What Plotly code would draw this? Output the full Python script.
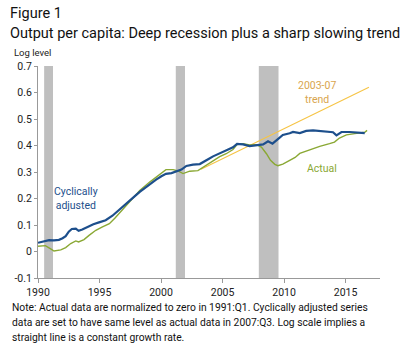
import plotly.graph_objects as go

# ---- data ----
adj_years = [1990.0, 1990.5, 1990.9, 1991.3, 1991.7, 1992.0, 1992.25, 1992.5, 1992.75, 1993.07,
             1993.3, 1993.6, 1993.9, 1994.2, 1994.5, 1994.96, 1995.5, 1996.05, 1996.6, 1997.1,
             1997.45, 1997.85, 1998.27, 1998.7, 1999.08, 1999.6, 2000.03, 2000.4, 2000.85, 2001.25,
             2001.66, 2002.06, 2002.6, 2003.15, 2003.55, 2003.9, 2004.23, 2004.77, 2005.3, 2005.85,
             2006.18, 2006.67, 2007.2, 2007.76, 2008.3, 2008.7, 2009.06, 2009.5, 2009.9, 2010.46,
             2010.73, 2011.28, 2011.8, 2012.36, 2012.9, 2013.45, 2013.98, 2014.26, 2014.67, 2015.34,
             2015.89, 2016.56]
adj_values = [0.033, 0.040, 0.043, 0.042, 0.044, 0.050, 0.058, 0.075, 0.085, 0.086,
              0.078, 0.083, 0.090, 0.098, 0.103, 0.110, 0.118, 0.135, 0.158, 0.180,
              0.193, 0.208, 0.225, 0.240, 0.256, 0.271, 0.284, 0.293, 0.296, 0.303,
              0.309, 0.323, 0.328, 0.330, 0.342, 0.350, 0.359, 0.370, 0.379, 0.393,
              0.406, 0.404, 0.398, 0.402, 0.404, 0.416, 0.407, 0.424, 0.440, 0.446,
              0.451, 0.447, 0.455, 0.457, 0.455, 0.451, 0.450, 0.438, 0.451, 0.451,
              0.449, 0.447]

act_years = [1990.0, 1990.6, 1991.03, 1991.3, 1991.85, 1992.25, 1992.66, 1993.07, 1993.3, 1993.74,
             1994.15, 1994.7, 1995.2, 1995.8, 1996.3, 1997.1, 1997.7, 1998.27, 1999.08, 1999.6,
             2000.03, 2000.4, 2000.98, 2001.38, 2001.79, 2002.33, 2003.0, 2003.28, 2003.9, 2004.23,
             2004.77, 2005.3, 2005.85, 2006.18, 2006.67, 2007.2, 2007.76, 2008.16, 2008.57, 2008.9,
             2009.25, 2009.5, 2009.9, 2010.46, 2010.9, 2011.28, 2012.1, 2012.9, 2013.7, 2014.1,
             2014.5, 2015.07, 2015.75, 2016.3, 2016.56, 2016.75]
act_values = [0.020, 0.022, 0.010, 0.002, 0.006, 0.015, 0.030, 0.040, 0.036, 0.045,
              0.061, 0.080, 0.092, 0.105, 0.128, 0.168, 0.200, 0.230, 0.262, 0.281,
              0.298, 0.309, 0.309, 0.304, 0.294, 0.303, 0.305, 0.313, 0.332, 0.342,
              0.358, 0.369, 0.385, 0.404, 0.407, 0.402, 0.403, 0.394, 0.369, 0.344,
              0.329, 0.324, 0.330, 0.344, 0.355, 0.370, 0.385, 0.397, 0.407, 0.413,
              0.428, 0.440, 0.445, 0.447, 0.450, 0.457]

trend_years = [2003.25, 2016.9]
trend_values = [0.31, 0.62]

recession_start = [1990.5, 2001.2, 2007.95]
recession_end = [1991.22, 2001.95, 2009.55]

x_ticks = [1990, 1995, 2000, 2005, 2010, 2015]
y_ticks = [-0.1, 0, 0.1, 0.2, 0.3, 0.4, 0.5, 0.6, 0.7]
y_tick_labels = ["-0.1", "0", "0.1", "0.2", "0.3", "0.4", "0.5", "0.6", "0.7"]

BLUE = "#1d4f8c"
GREEN = "#8aa834"
GOLD = "#f6c445"
GOLD_TXT = "#d9a54e"
FONT = "Roboto"

fig = go.Figure()

for s, e in zip(recession_start, recession_end):
    fig.add_shape(type="rect", xref="x", yref="y", x0=s, x1=e, y0=-0.1, y1=0.7,
                  fillcolor="#bfbfbf", line_width=0, layer="below")

fig.add_trace(go.Scatter(x=trend_years, y=trend_values, mode="lines",
                         line=dict(color=GOLD, width=1.1), hoverinfo="skip"))
fig.add_trace(go.Scatter(x=act_years, y=act_values, mode="lines",
                         line=dict(color=GREEN, width=1.4)))
fig.add_trace(go.Scatter(x=adj_years, y=adj_values, mode="lines",
                         line=dict(color=BLUE, width=2.2)))

# plot area in pixels: x 38.3..380, y 65.7..277.7
L, R, T, B = 38.3, 380.0, 65.7, 277.7
def px(xp):
    return (xp - L) / (R - L)
def py(yp):
    return (B - yp) / (B - T)

ann = []
ann.append(dict(text="Figure 1", x=px(8), y=py(13), xref="paper", yref="paper",
                xanchor="left", yanchor="middle", showarrow=False,
                font=dict(family=FONT, size=14.5, color="#111111")))
ann.append(dict(text="Output per capita: Deep recession plus a sharp slowing trend",
                x=px(8), y=py(33), xref="paper", yref="paper",
                xanchor="left", yanchor="middle", showarrow=False,
                font=dict(family=FONT, size=14.5, color="#111111")))
ann.append(dict(text="Log level", x=px(12), y=py(52), xref="paper", yref="paper",
                xanchor="left", yanchor="middle", showarrow=False,
                font=dict(family=FONT, size=9.5, color="#222222")))
notes = ["Note: Actual data are normalized to zero in 1991:Q1. Cyclically adjusted series",
         "data are set to have same level as actual data in 2007:Q3. Log scale implies a",
         "straight line is a constant growth rate."]
for i, t in enumerate(notes):
    ann.append(dict(text=t, x=px(10), y=py(307 + 15 * i), xref="paper", yref="paper",
                    xanchor="left", yanchor="middle", showarrow=False,
                    font=dict(family=FONT, size=10.3, color="#111111")))
ann.append(dict(text="Cyclically<br>adjusted", x=1993.1, y=0.2, xref="x", yref="y",
                showarrow=False, align="center",
                font=dict(family=FONT, size=10.5, color=BLUE)))
ann.append(dict(text="2003-07<br>trend", x=2012.65, y=0.6, xref="x", yref="y",
                showarrow=False, align="center",
                font=dict(family=FONT, size=10.5, color=GOLD_TXT)))
ann.append(dict(text="Actual", x=2013.1, y=0.315, xref="x", yref="y",
                showarrow=False, align="center",
                font=dict(family=FONT, size=10.5, color=GREEN)))

fig.update_layout(
    width=400, height=345,
    margin=dict(l=L, r=400 - R, t=T, b=345 - B),
    paper_bgcolor="white", plot_bgcolor="white",
    showlegend=False,
    annotations=ann,
    font=dict(family=FONT, size=10, color="#222222"),
)
fig.update_xaxes(range=[1990, 2017.8], tickvals=x_ticks, ticktext=[str(v) for v in x_ticks],
                 showgrid=False, zeroline=False, showline=True, linecolor="#999999", linewidth=1,
                 ticks="outside", ticklen=4, tickcolor="#999999",
                 tickfont=dict(family=FONT, size=10.5, color="#222222"))
fig.update_yaxes(range=[-0.1, 0.7], tickvals=y_ticks, ticktext=y_tick_labels,
                 showgrid=False, zeroline=False, showline=True, linecolor="#999999", linewidth=1,
                 ticks="outside", ticklen=3, tickcolor="#999999",
                 tickfont=dict(family=FONT, size=10.5, color="#222222"))

fig.write_html("out.html")
